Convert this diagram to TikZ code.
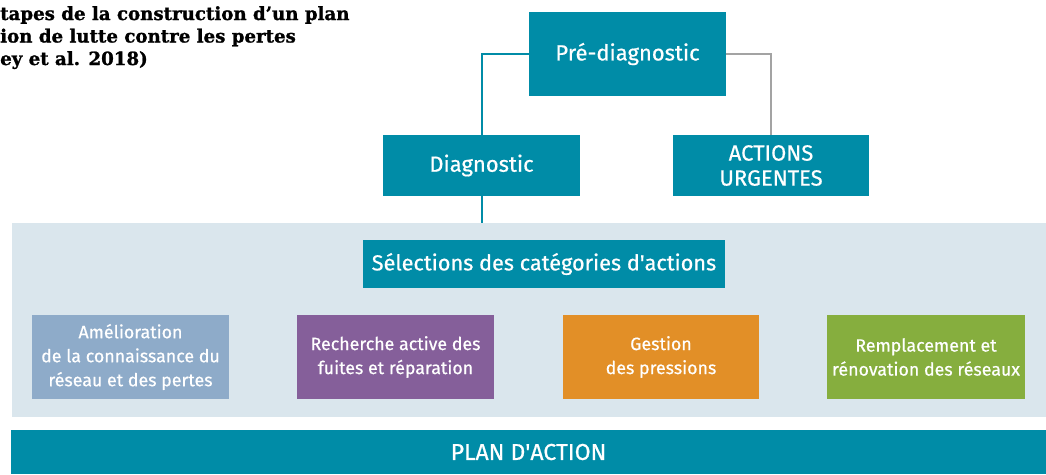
\documentclass[tikz,border=0pt]{standalone}
\usepackage{fontspec}
\setmainfont{Fira Sans}[FakeBold=0.6]
\newfontfamily\titlefont{DejaVu Serif}[BoldFeatures={FakeBold=1.2}]
\definecolor{teal}{HTML}{008CA7}
\definecolor{panel}{HTML}{DAE6ED}
\definecolor{greyline}{HTML}{A3A3A3}
\definecolor{bluegrey}{HTML}{8EABC9}
\definecolor{purp}{HTML}{855F9A}
\definecolor{orng}{HTML}{E28F27}
\definecolor{grn}{HTML}{86AE3E}
\begin{document}
\begin{tikzpicture}[x=1pt,y=-1pt,
  box/.style={fill=teal,text=white,inner sep=0pt,align=center},
  cat/.style={inner sep=0pt,text=white,align=center,font=\fontsize{17.8}{24}\selectfont},
  conn/.style={line width=2pt},
  title/.style={anchor=base west,inner sep=0pt,font=\titlefont\bfseries\fontsize{18.2}{20}\selectfont}]
\useasboundingbox (0,0) rectangle (1046,474);
% panel
\node[fill=panel,minimum width=1034pt,minimum height=194pt,inner sep=0pt] (pan) at (529,320) {};
% title
\node[title] (t1) at (0,20) {tapes de la construction d’un plan};
\node[title] (t2) at (0,42.5) {ion de lutte contre les pertes};
\node[title] (t3) at (0,65) {ey et al. 2018)};
% top nodes
\node[box,minimum width=197pt,minimum height=84pt,font=\fontsize{22}{24}\selectfont] (pre) at (627.5,54) {Pré-diagnostic};
\node[box,minimum width=197pt,minimum height=61pt,font=\fontsize{22}{24}\selectfont] (diag) at (481.5,165.5) {Diagnostic};
\node[box,minimum width=196pt,minimum height=61pt,font=\fontsize{22}{25}\selectfont] (urg) at (771,165.5) {ACTIONS\\URGENTES};
\node[box,minimum width=362pt,minimum height=48pt,font=\fontsize{21.7}{24}\selectfont] (sel) at (544,264) {Sélections des catégories d\textquotesingle actions};
% categories
\node[cat,fill=bluegrey,minimum width=197pt,minimum height=84pt] (c1) at (130.5,357) {Amélioration\\de la connaissance du\\réseau et des pertes};
\node[cat,fill=purp,minimum width=197pt,minimum height=84pt] (c2) at (395.5,357) {Recherche active des\\fuites et réparation};
\node[cat,fill=orng,minimum width=196pt,minimum height=84pt] (c3) at (661,357) {Gestion\\des pressions};
\node[cat,fill=grn,minimum width=198pt,minimum height=84pt] (c4) at (926,357) {Remplacement et\\rénovation des réseaux};
% plan
\node[box,minimum width=1035pt,minimum height=44pt,font=\fontsize{23}{24}\selectfont] (plan) at (528.5,452) {\raisebox{-2pt}{PLAN D\textquotesingle ACTION}};
% connectors
\draw[conn,teal] (pre.west) -| (diag.north);
\draw[conn,greyline] (pre.east) -| (urg.north);
\draw[conn,teal] (diag.south) -- (diag.south |- pan.north);
\end{tikzpicture}
\end{document}
